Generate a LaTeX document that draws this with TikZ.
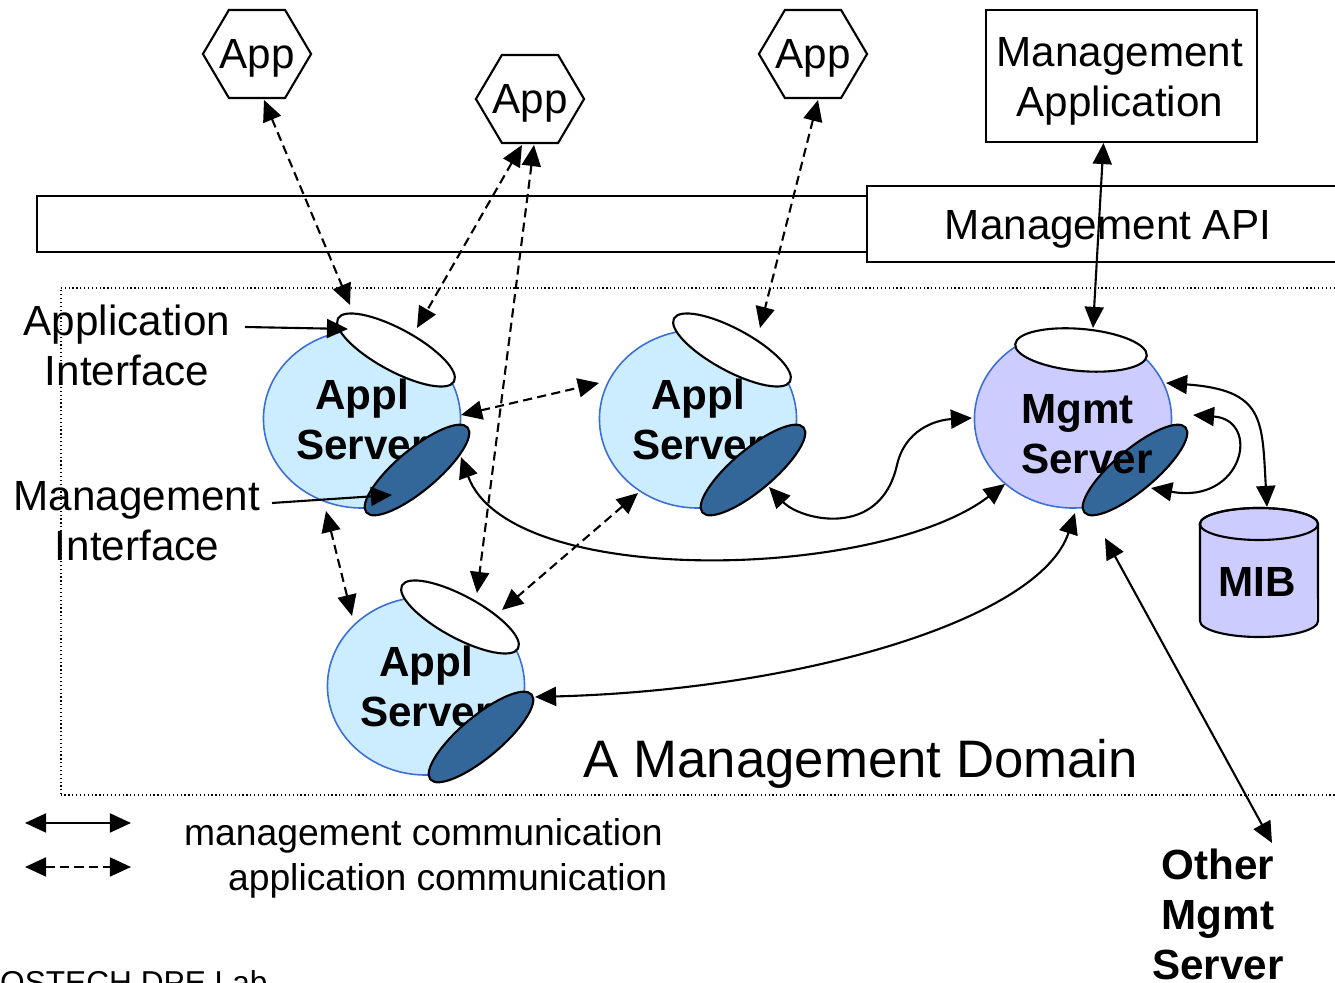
\documentclass[tikz,border=0pt]{standalone}
\usepackage{fontspec}
\setmainfont{Liberation Sans}
\usetikzlibrary{arrows.meta,shapes.geometric,calc}

\definecolor{applfill}{HTML}{CCECFF}
\definecolor{mgmtfill}{HTML}{CCCCFF}
\definecolor{rimblue}{HTML}{3C6FD6}
\definecolor{portdark}{HTML}{336699}

\begin{document}
\begin{tikzpicture}[x=0.01cm, y=-0.01cm, line width=0.6pt,
  >={Triangle[length=6pt,width=5.4pt]},
  txt/.style={font=\fontsize{12}{14.2}\selectfont, inner sep=0pt, align=center},
  btxt/.style={font=\fontsize{12}{14.2}\selectfont\bfseries, inner sep=0pt, align=center},
  legtxt/.style={font=\fontsize{10.6}{12.6}\selectfont, inner sep=0pt},
  hexbox/.style={txt, text depth=0pt, minimum width=1.06cm, minimum height=0.88cm},
  box/.style={draw, inner sep=0pt},
  domainframe/.style={draw, line width=0.5pt, dash pattern=on 0.35pt off 0.75pt,
    minimum width=12.84cm, minimum height=5.07cm, inner sep=0pt},
  server/.style={ellipse, draw=rimblue, line width=0.45pt, minimum width=1.97cm,
    minimum height=1.78cm, inner sep=0pt, align=center,
    font=\fontsize{12}{14.2}\selectfont\bfseries},
  applserver/.style={server, fill=applfill},
  mgmtserver/.style={server, fill=mgmtfill},
  apport/.style={ellipse, draw, fill=white, minimum width=1.32cm, minimum height=0.42cm, inner sep=0pt},
  mgport/.style={ellipse, draw, fill=portdark, minimum width=1.32cm, minimum height=0.41cm, inner sep=0pt},
  mlink/.style={<->},
  alink/.style={<->, dash pattern=on 2.6pt off 1.5pt},
  pointer/.style={->}
]
\useasboundingbox (0,0) rectangle (1335,983);
\clip (0,0) rectangle (1335,983);

% the management domain
\node[domainframe] (domain) at (703,541.5) {};

% API layer
\node[box, minimum width=8.30cm, minimum height=0.56cm] (bar) at (452,224) {};
\node[box, minimum width=4.82cm, minimum height=0.76cm] (api) at (1108,224) {};
\node[txt, anchor=base] (apitext) at (1108,240) {Management API};

% management application
\node[box, minimum width=2.71cm, minimum height=1.32cm] (mapp) at (1121.5,76) {};
\node[txt] (mapptext) at (1120,81.5) {Management\\Application};

% applications
\foreach \n/\x/\y in {h1/257/54, h2/530/99, h3/813/54} {
  \node[hexbox] (\n) at (\x,\y) {App};
  \draw (\n.west) -- ($(\n.west)+(26,-44)$) -- ($(\n.east)+(-26,-44)$) -- (\n.east)
        -- ($(\n.east)+(-26,44)$) -- ($(\n.west)+(26,44)$) -- cycle;
}

% application servers with their two interfaces
\node[applserver] (s1) at (362,419) {Appl\\Server};
\node[apport, rotate=-28.5] (w1) at (396,350) {};
\node[mgport, rotate=40] (k1) at (417,470) {};

\node[applserver] (s2) at (698,419) {Appl\\Server};
\node[apport, rotate=-28.5] (w2) at (732,350) {};
\node[mgport, rotate=40] (k2) at (753,470) {};

\node[applserver] (s3) at (426,686) {Appl\\Server};
\node[apport, rotate=-28.5] (w3) at (460,617) {};
\node[mgport, rotate=40] (k3) at (481,737) {};

% management server
\node[mgmtserver] (ms) at (1073,419) {};
\node[apport, rotate=-5] (wm) at (1081,350) {};
\node[mgport, rotate=40] (km) at (1135,470) {};
\node[btxt, align=left] (mstext) at (1087,434) {Mgmt\\Server};

% MIB store
\path[draw, fill=mgmtfill] (1200,524) -- (1200,621)
  arc[start angle=180, end angle=360, x radius=0.59cm, y radius=0.16cm] -- (1318,524)
  arc[start angle=0, end angle=180, x radius=0.59cm, y radius=0.16cm] -- cycle;
\draw (1259,524) ellipse [x radius=0.59cm, y radius=0.16cm];
\node[btxt] (mib) at (1257,582) {MIB};

% labels
\node[btxt] (other) at (1218,914) {Other\\Mgmt\\Server};
\node[txt] (appif) at (127,345) {Application\\Interface};
\node[txt] (mgmtif) at (137,521) {Management\\Interface};
\node[font=\fontsize{15}{18}\selectfont, inner sep=0pt, anchor=base] (domlabel) at (861,778) {A Management Domain};

% application communication
\draw[alink] ($(h1)+(7,46)$) -- ($(w1)+(-46,-45)$);
\draw[alink] ($(h2)+(-8,46)$) -- ($(w1)+(21,-22)$);
\draw[alink] ($(h2)+(4,46)$) -- ($(w3)+(17,-24)$);
\draw[alink] ($(h3)+(5,46)$) -- ($(w2)+(28,-22)$);
\draw[alink] ($(s1)+(99,-4)$) -- ($(s2)+(-99,-36)$);
\draw[alink] ($(s1)+(-36,92)$) -- ($(s3)+(-74,-70)$);
\draw[alink] ($(s2)+(-60,74)$) -- ($(w3)+(42,-7)$);

% management communication
\draw[mlink] ($(mapp)+(-18,67)$) -- ($(wm)+(12,-22)$);
\draw[mlink] ($(k1)+(44,-13)$) .. controls ($(k1)+(93,120)$) and ($(ms)+(-193,161)$) .. ($(ms)+(-68,65)$);
\draw[mlink] ($(k2)+(16,17)$) .. controls ($(k2)+(47,50)$) and ($(k2)+(127,70)$) .. ($(k2)+(144,-5)$)
  .. controls ($(ms)+(-168,11)$) and ($(ms)+(-138,1)$) .. ($(ms)+(-101,-1)$);
\draw[mlink] ($(k3)+(54,-40)$) .. controls ($(k3)+(319,-47)$) and ($(ms)+(-33,201)$) .. ($(ms)+(2,94)$);
\draw[mlink] ($(ms)+(93,-36)$) .. controls ($(ms)+(192,-29)$) and ($(mib)+(5,-162)$) .. ($(mib)+(10,-75)$);
\draw[mlink] ($(km)+(58,-55)$) .. controls ($(km)+(127,-50)$) and ($(km)+(108,35)$) .. ($(km)+(16,18)$);
\draw[mlink] ($(km)+(-30,68)$) -- ($(other)+(54,-71)$);

% label pointers
\draw[pointer] ($(appif)+(118,-18)$) -- ($(w1)+(-48,-21)$);
\draw[pointer] ($(mgmtif)+(135,-18)$) -- ($(k1)+(-25,25)$);

% legend
\coordinate (la1) at (25,823);
\coordinate (la2) at (131,823);
\coordinate (lb1) at (25,867);
\coordinate (lb2) at (131,867);
\draw[mlink] (la1) -- (la2);
\draw[alink] (lb1) -- (lb2);
\node[legtxt, anchor=base west] (legm) at (183,846) {management communication};
\node[legtxt, anchor=base west] (lega) at (227,891) {application communication};

% footer
\node[font=\fontsize{9}{11}\selectfont, inner sep=0pt, anchor=base west] (lab) at (-22,994) {POSTECH DPE Lab};
\end{tikzpicture}
\end{document}
